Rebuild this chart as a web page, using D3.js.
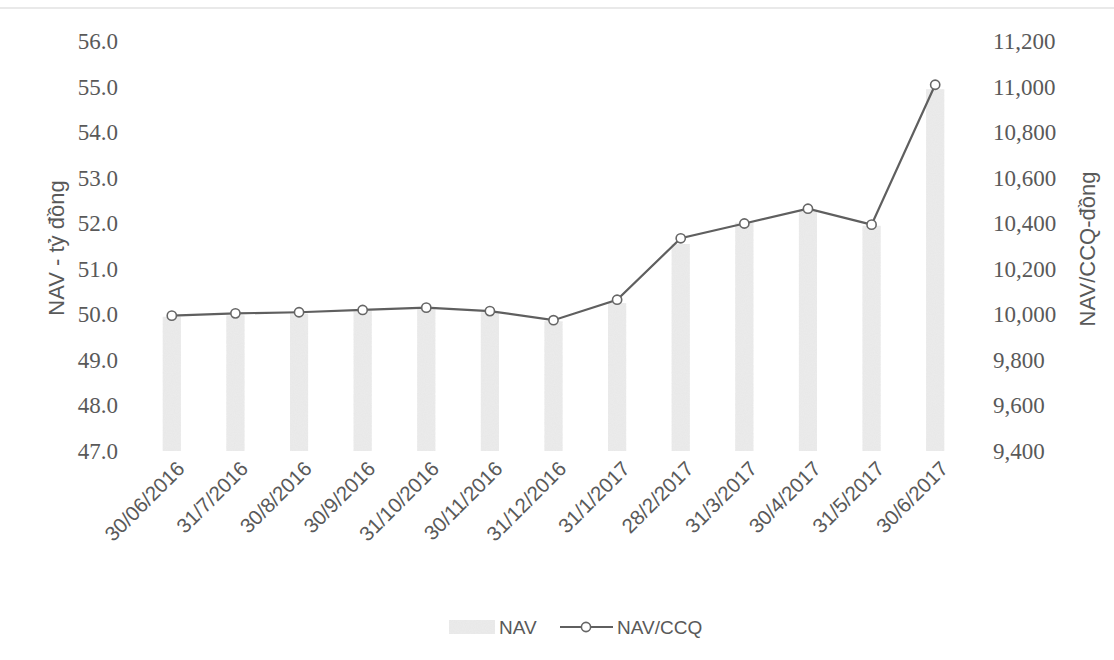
<!DOCTYPE html>
<html>
<head>
<meta charset="utf-8">
<script src="https://cdn.jsdelivr.net/npm/d3@7"></script>
<style>
  html, body { margin: 0; padding: 0; background: #ffffff; }
  svg { display: block; }
</style>
</head>
<body>
<svg id="chart" width="1114" height="660"></svg>
<script>
// Month-end reporting dates
const dates = ["30/06/2016", "31/7/2016", "30/8/2016", "30/9/2016", "31/10/2016", "30/11/2016",
  "31/12/2016", "31/1/2017", "28/2/2017", "31/3/2017", "30/4/2017", "31/5/2017", "30/6/2017"];

// Net asset value, billion VND (bars, left axis)
const navValues = [49.95, 49.98, 50.02, 50.08, 50.12, 50.05, 49.85, 50.25, 51.55, 52.02, 52.30, 51.95, 54.95];

// NAV per fund unit, VND (line, right axis)
const navPerUnit = [9995, 10005, 10010, 10020, 10030, 10015, 9975, 10065, 10335, 10400, 10465, 10395, 11010];

// Axis ticks
const leftTicks = [47, 48, 49, 50, 51, 52, 53, 54, 55, 56];
const rightTicks = [9400, 9600, 9800, 10000, 10200, 10400, 10600, 10800, 11000, 11200];

const svg = d3.select("#chart");

const plot = { left: 140, right: 967, top: 41.5, bottom: 451 };

const x = d3.scalePoint().domain(dates).range([plot.left, plot.right]).padding(0.5);
const yL = d3.scaleLinear().domain([47, 56]).range([plot.bottom, plot.top]);
const yR = d3.scaleLinear().domain([9400, 11200]).range([plot.bottom, plot.top]);

const barW = x.step() * 0.285;
const textGrey = "#595959";
const tickFont = "'Liberation Serif', 'Times New Roman', serif";
const sansFont = "'Liberation Sans', Arial, sans-serif";

// Bar texture: fine grey speckle
const defs = svg.append("defs");
const f = defs.append("filter").attr("id", "speckle").attr("x", 0).attr("y", 0).attr("width", 1).attr("height", 1);
f.append("feTurbulence").attr("type", "fractalNoise").attr("baseFrequency", 0.9).attr("numOctaves", 1).attr("seed", 3).attr("result", "noise");
f.append("feColorMatrix").attr("in", "noise").attr("type", "matrix")
  .attr("values", "0 0 0 0 0.8  0 0 0 0 0.8  0 0 0 0 0.8  0 0 0 -1.6 1.2").attr("result", "dots");
f.append("feComposite").attr("in", "dots").attr("in2", "SourceGraphic").attr("operator", "in").attr("result", "dotsIn");
f.append("feMerge").selectAll("feMergeNode").data(["SourceGraphic", "dotsIn"]).enter()
  .append("feMergeNode").attr("in", d => d);

// Faint frame edge along the top
svg.append("line").attr("x1", 0).attr("x2", 1114).attr("y1", 8).attr("y2", 8)
  .attr("stroke", "#e2e2e2").attr("stroke-width", 1.5);

// Bars
svg.append("g").selectAll("rect").data(dates).enter().append("rect")
  .attr("x", d => x(d) - barW / 2)
  .attr("width", barW)
  .attr("y", (d, i) => yL(navValues[i]))
  .attr("height", (d, i) => yL(47) - yL(navValues[i]))
  .attr("fill", "#ebebeb")
  .attr("filter", "url(#speckle)");

// Line with open circle markers
const line = d3.line().x((d, i) => x(dates[i])).y(d => yR(d));
svg.append("path").datum(navPerUnit)
  .attr("d", line)
  .attr("fill", "none")
  .attr("stroke", "#5f5f5f")
  .attr("stroke-width", 2.2);

svg.append("g").selectAll("circle").data(navPerUnit).enter().append("circle")
  .attr("cx", (d, i) => x(dates[i]))
  .attr("cy", d => yR(d))
  .attr("r", 4.6)
  .attr("fill", "#ffffff")
  .attr("stroke", "#666666")
  .attr("stroke-width", 1.6);

// Left axis
const axL = d3.axisLeft(yL).tickValues(leftTicks).tickFormat(d3.format(".1f")).tickSize(0).tickPadding(0);
const gL = svg.append("g").attr("transform", "translate(118,0)").call(axL);
gL.select(".domain").remove();
gL.selectAll("text").attr("font-family", tickFont).attr("font-size", 23).attr("fill", textGrey);

// Right axis
const axR = d3.axisRight(yR).tickValues(rightTicks).tickFormat(d3.format(",")).tickSize(0).tickPadding(0);
const gR = svg.append("g").attr("transform", "translate(993,0)").call(axR);
gR.select(".domain").remove();
gR.selectAll("text").attr("font-family", tickFont).attr("font-size", 23).attr("fill", textGrey);

// Category labels, rotated
const gX = svg.append("g");
gX.selectAll("text").data(dates).enter().append("text")
  .attr("transform", d => `translate(${x(d) + 14},${470}) rotate(-45)`)
  .attr("text-anchor", "end")
  .attr("font-family", sansFont)
  .attr("font-size", 20.5)
  .attr("fill", textGrey)
  .text(d => d);

// Axis titles
svg.append("text")
  .attr("transform", `translate(64,${248}) rotate(-90)`)
  .attr("text-anchor", "middle")
  .attr("font-family", sansFont)
  .attr("font-size", 22)
  .attr("fill", textGrey)
  .text("NAV - tỷ đồng");

svg.append("text")
  .attr("transform", `translate(1095,${249}) rotate(-90)`)
  .attr("text-anchor", "middle")
  .attr("font-family", sansFont)
  .attr("font-size", 22)
  .attr("fill", textGrey)
  .text("NAV/CCQ-đồng");

// Legend
const lg = svg.append("g").attr("transform", "translate(0,627)");
lg.append("rect").attr("x", 449).attr("y", -7).attr("width", 46).attr("height", 14)
  .attr("fill", "#ebebeb").attr("filter", "url(#speckle)");
lg.append("text").attr("x", 499).attr("y", 0).attr("dy", "0.35em")
  .attr("font-family", sansFont).attr("font-size", 19).attr("fill", textGrey).text("NAV");
lg.append("line").attr("x1", 560).attr("x2", 613).attr("y1", 0).attr("y2", 0)
  .attr("stroke", "#5f5f5f").attr("stroke-width", 2);
lg.append("circle").attr("cx", 586).attr("cy", 0).attr("r", 4.6)
  .attr("fill", "#ffffff").attr("stroke", "#666666").attr("stroke-width", 1.6);
lg.append("text").attr("x", 617).attr("y", 0).attr("dy", "0.35em")
  .attr("font-family", sansFont).attr("font-size", 19).attr("fill", textGrey).text("NAV/CCQ");
</script>
</body>
</html>
